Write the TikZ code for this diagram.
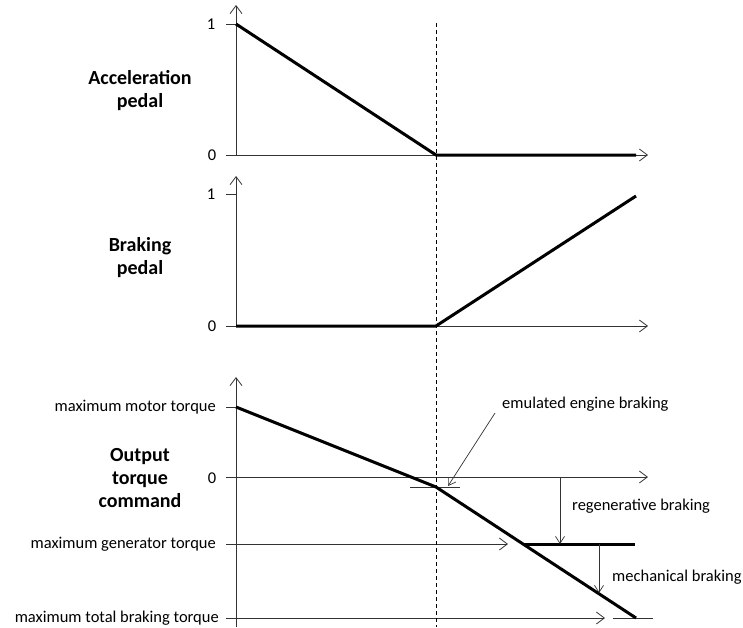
\documentclass[tikz,border=0pt]{standalone}
\usepackage{fontspec}
\setmainfont{Carlito}
\usetikzlibrary{arrows.meta}

\begin{document}
\begin{tikzpicture}[x=1pt,y=-1pt,
    axis/.style = {line width=0.8pt,draw=black!80,-{Straight Barb[length=8pt,width=12pt]}},
    tick/.style = {line width=0.8pt,draw=black!80},
    curve/.style = {line width=3pt},
    pointer/.style = {line width=0.7pt,draw=black!80,-{Straight Barb[length=7pt,width=9pt]}},
    title/.style = {font=\fontsize{20}{23}\selectfont\bfseries,align=center},
    lbl/.style = {font=\fontsize{16.5}{19}\selectfont,inner sep=0pt}]
      \useasboundingbox (0,0) rectangle (743,627);

      % Coordinates
      \coordinate (a0) at (236,155);  \coordinate (a1) at (236,24);
      \coordinate (aT) at (236,5);    \coordinate (aX) at (648,155);
      \coordinate (b0) at (236,326);  \coordinate (b1) at (236,194);
      \coordinate (bT) at (236,176);  \coordinate (bX) at (648,326);
      \coordinate (cB) at (236,627);  \coordinate (cT) at (236,377);
      \coordinate (cM) at (236,407);  \coordinate (c0) at (236,477);
      \coordinate (cG) at (236,544);  \coordinate (cK) at (236,618);
      \coordinate (c0X) at (648,477); \coordinate (cGX) at (508,544);
      \coordinate (cKX) at (605,618);
      \coordinate (brk) at (436,487); \coordinate (gen) at (523,544);
      \coordinate (end) at (636,618);

      % Labels
      \node[title] (acc) at (140,91) {Acceleration\\pedal};
      \node[title] (brp) at (140,258) {Braking\\pedal};
      \node[title] (otc) at (140,478) {Output\\torque\\command};
      \node[lbl] (one1) at (211,24) {1};
      \node[lbl] (zero1) at (212,155) {0};
      \node[lbl] (one2) at (211,194) {1};
      \node[lbl] (zero2) at (212,326) {0};
      \node[lbl] (zero3) at (212,478) {0};
      \node[lbl,anchor=east] (mmt) at (216,407) {maximum motor torque};
      \node[lbl,anchor=east] (mgt) at (216,544) {maximum generator torque};
      \node[lbl,anchor=east] (mtb) at (219,618) {maximum total braking torque};
      \node[lbl,anchor=west] (eeb) at (502,404) {emulated engine braking};
      \node[lbl,anchor=west] (rgb) at (572,506) {regenerative braking};
      \node[lbl,anchor=west] (mcb) at (612,577) {mechanical braking};

      % Axes
      \draw[axis] (a0) -- (aT);
      \draw[axis] (a0) -- (aX);
      \draw[axis] (b0) -- (bT);
      \draw[axis] (b0) -- (bX);
      \draw[axis] (cB) -- (cT);
      \draw[axis] (c0) -- (c0X);
      \draw[axis] (cG) -- (cGX);
      \draw[axis] (cK) -- (cKX);
      \foreach \p in {a0,a1,b0,b1,cM,c0,cG,cK}
        \draw[tick] (\p) -- ++(-10,0);
      \draw[tick] (410,487) -- (460,487);
      \draw[tick] (613,618) -- (653,618);
      \draw[line width=0.8pt,dash pattern=on 4pt off 3pt] (436,23) -- (436,627);

      % Curves
      \draw[curve,line join=round] (a1) -- (436,155) -- (636,155);
      \draw[curve,line join=round] (b0) -- (436,326) -- (636,196);
      \draw[curve,line join=round] (cM) -- (brk) -- (end);
      \draw[curve] (gen) -- (635,544);

      % Pointers
      \draw[pointer] (495,413) -- (448,486);
      \draw[pointer] (560,477) -- (560,544);
      \draw[pointer] (599,544) -- (599,593);
\end{tikzpicture}
\end{document}
